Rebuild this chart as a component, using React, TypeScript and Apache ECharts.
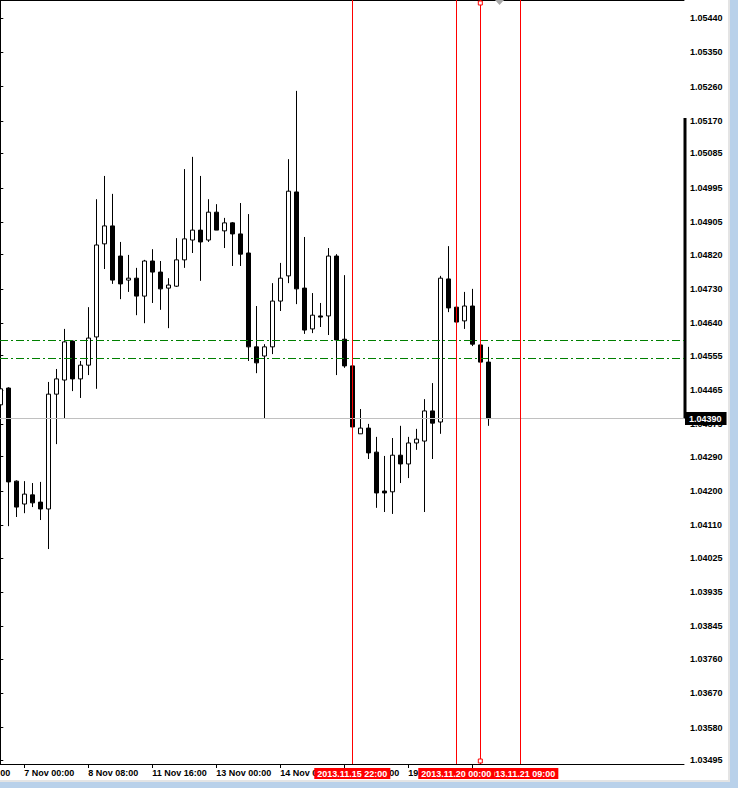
import React, { useEffect, useRef } from "react";
import * as echarts from "echarts";

// H4 candles, index 0 = 6 Nov 12:00
const opens = [
  1.04426, 1.04470, 1.04226, 1.04166, 1.04190, 1.04171, 1.04153, 1.04454, 1.04491, 1.04593,
  1.04494, 1.04530, 1.04604, 1.04848, 1.04895, 1.04816, 1.04753, 1.04758, 1.04711, 1.04803,
  1.04774, 1.04732, 1.04737, 1.04806, 1.04858, 1.04884, 1.04858, 1.04931, 1.04882, 1.04903,
  1.04874, 1.04824, 1.04578, 1.04554, 1.04578, 1.04698, 1.04764, 1.04984, 1.04732, 1.04625,
  1.04659, 1.04659, 1.04816, 1.04598, 1.04528, 1.04350, 1.04365, 1.04302, 1.04200, 1.04198,
  1.04294, 1.04271, 1.04326, 1.04331, 1.04410, 1.04381, 1.04756, 1.04682, 1.04646, 1.04685,
  1.04583, 1.04538,
];
const closes = [
  1.04468, 1.04224, 1.04158, 1.04192, 1.04169, 1.04153, 1.04454, 1.04494, 1.04591, 1.04494,
  1.04530, 1.04601, 1.04845, 1.04895, 1.04753, 1.04743, 1.04758, 1.04711, 1.04803, 1.04774,
  1.04730, 1.04740, 1.04806, 1.04861, 1.04884, 1.04853, 1.04931, 1.04884, 1.04903, 1.04874,
  1.04821, 1.04578, 1.04536, 1.04578, 1.04698, 1.04758, 1.04986, 1.04730, 1.04622, 1.04661,
  1.04656, 1.04816, 1.04596, 1.04528, 1.04368, 1.04365, 1.04300, 1.04195, 1.04195, 1.04294,
  1.04271, 1.04326, 1.04336, 1.04410, 1.04378, 1.04758, 1.04680, 1.04643, 1.04685, 1.04585,
  1.04538, 1.04390,
];
const lows = [
  1.04342, 1.04108, 1.04132, 1.04142, 1.04158, 1.04124, 1.04048, 1.04323, 1.04389, 1.04462,
  1.04444, 1.04504, 1.04468, 1.04782, 1.04743, 1.04703, 1.04722, 1.04661, 1.04640, 1.04693,
  1.04675, 1.04627, 1.04735, 1.04785, 1.04824, 1.04751, 1.04853, 1.04884, 1.04837, 1.04790,
  1.04790, 1.04541, 1.04509, 1.04391, 1.04559, 1.04672, 1.04745, 1.04690, 1.04612, 1.04614,
  1.04630, 1.04609, 1.04504, 1.04523, 1.04368, 1.04350, 1.04284, 1.04156, 1.04145, 1.04140,
  1.04221, 1.04234, 1.04308, 1.04145, 1.04284, 1.04350, 1.04669, 1.04643, 1.04625, 1.04580,
  1.04538, 1.04371,
];
const highs = [
  1.04488, 1.04472, 1.04228, 1.04226, 1.04221, 1.04224, 1.04486, 1.04520, 1.04625, 1.04595,
  1.04541, 1.04682, 1.04965, 1.05026, 1.04979, 1.04853, 1.04819, 1.04785, 1.04806, 1.04834,
  1.04803, 1.04758, 1.04863, 1.05044, 1.05076, 1.05026, 1.04965, 1.04952, 1.04916, 1.04905,
  1.04955, 1.04926, 1.04685, 1.04585, 1.04745, 1.04798, 1.05070, 1.05249, 1.04866, 1.04719,
  1.04693, 1.04837, 1.04821, 1.04766, 1.04528, 1.04415, 1.04376, 1.04342, 1.04292, 1.04339,
  1.04371, 1.04342, 1.04363, 1.04441, 1.04483, 1.04764, 1.04842, 1.04682, 1.04722, 1.04730,
  1.04583, 1.04578,
];

const timeTickIndex = [3, 11, 19, 27, 35, 43, 51, 59];
const timeTickLabels = [
  "7 Nov 00:00", "8 Nov 08:00", "11 Nov 16:00", "13 Nov 00:00",
  "14 Nov 08:00", "15 Nov 16:00", "19 Nov 00:00", "20 Nov 08:00",
];
const offLeftTickIndex = -5;
const offLeftTickLabel = "5 Nov 16:00";

const priceTicks = [
  1.0544, 1.0535, 1.0526, 1.0517, 1.05085, 1.04995, 1.04905, 1.0482, 1.0473, 1.0464,
  1.04555, 1.04465, 1.04375, 1.0429, 1.042, 1.0411, 1.04025, 1.03935, 1.03845, 1.0376,
  1.0367, 1.0358, 1.03495,
];

const vLineIndex = [44, 60, 65, 57];
const vLineLabels = ["2013.11.15 22:00", "2013.11.20 12:00", "2013.11.21 09:00", "2013.11.20 00:00"];
const selectedLineIndex = 60;
const chartShiftIndex = 62.4;

const greenLevels = [1.04596, 1.04549];
const bidPrice = 1.0439;
const rightBarTop = 1.05178;

const FONT = "'Liberation Sans', Arial, sans-serif";

export default function App() {
  const ref = useRef<HTMLDivElement>(null);

  useEffect(() => {
    if (!ref.current) return;
    const chart = echarts.init(ref.current, null, { renderer: "svg" });
    const xMin = -0.0375;
    const xMax = 85.4625;
    const yMin = 1.034845;
    const yMax = 1.054872;

    const candleData = opens.map((o, i) => [i, o, closes[i], lows[i], highs[i]]);

    const redLabel = (text: string) => ({
      show: true,
      position: "start",
      distance: 4,
      formatter: text,
      backgroundColor: "#ff0000",
      color: "#fff",
      fontSize: 9,
      fontWeight: "bold",
      fontFamily: FONT,
      padding: [1, 3, 0, 3],
      lineHeight: 10,
    });

    const option: any = {
      animation: false,
      backgroundColor: "#ffffff",
      grid: { left: 0, top: 0, right: 54, bottom: 24, containLabel: false },
      xAxis: [
        {
          type: "value",
          min: xMin,
          max: xMax,
          position: "bottom",
          splitLine: { show: false },
          axisLine: { show: true, lineStyle: { color: "#000", width: 1 } },
          axisTick: {
            show: true,
            customValues: timeTickIndex,
            length: 4,
            lineStyle: { color: "#000" },
          },
          axisLabel: {
            show: true,
            customValues: timeTickIndex,
            formatter: (v: number) => {
              const i = timeTickIndex.indexOf(Math.round(v));
              return i >= 0 ? timeTickLabels[i] : "";
            },
            align: "left",
            margin: 4,
            fontSize: 9,
            fontWeight: "bold",
            fontFamily: FONT,
            color: "#000",
          },
        },
        {
          type: "value",
          min: xMin,
          max: xMax,
          position: "top",
          splitLine: { show: false },
          axisLine: { show: true, lineStyle: { color: "#000", width: 1 } },
          axisTick: { show: false },
          axisLabel: { show: false },
        },
      ],
      yAxis: {
        type: "value",
        position: "right",
        min: yMin,
        max: yMax,
        splitLine: { show: false },
        axisLine: { show: true, lineStyle: { color: "#000", width: 1 } },
        axisTick: {
          show: true,
          customValues: priceTicks,
          length: 3,
          lineStyle: { color: "#000" },
        },
        axisLabel: {
          show: true,
          customValues: priceTicks,
          formatter: (v: number) => v.toFixed(5),
          margin: 6,
          fontSize: 9,
          fontWeight: "bold",
          fontFamily: FONT,
          color: "#000",
        },
      },
      series: [
        {
          type: "line",
          data: [],
          silent: true,
          z: 1,
          markLine: {
            silent: true,
            symbol: "none",
            precision: 6,
            animation: false,
            emphasis: { disabled: true },
            data: [
              ...greenLevels.map((v) => ({
                yAxis: v,
                lineStyle: { color: "#008000", width: 1, type: [8, 3, 2, 3] },
                label: { show: false },
              })),
              {
                yAxis: bidPrice,
                lineStyle: { color: "#c0c0c0", width: 1, type: "solid" },
                label: {
                  show: true,
                  position: "end",
                  distance: 1,
                  formatter: bidPrice.toFixed(5),
                  backgroundColor: "#000",
                  color: "#fff",
                  fontSize: 9,
                  fontWeight: "bold",
                  fontFamily: FONT,
                  padding: [2, 5, 1, 4],
                  lineHeight: 10,
                },
              },
            ],
          },
        },
        {
          type: "candlestick",
          data: candleData,
          encode: { x: 0, y: [1, 2, 3, 4] },
          barWidth: 4,
          silent: true,
          z: 2,
          itemStyle: {
            color: "#ffffff",
            color0: "#000000",
            borderColor: "#000000",
            borderColor0: "#000000",
            borderWidth: 1,
          },
        },
        {
          type: "line",
          data: [],
          silent: true,
          z: 3,
          markLine: {
            silent: true,
            symbol: "none",
            precision: 6,
            animation: false,
            emphasis: { disabled: true },
            data: vLineIndex.map((k, i) => ({
              xAxis: k,
              lineStyle: { color: "#ff0000", width: 1, type: "solid" },
              label: redLabel(vLineLabels[i]),
            })),
          },
        },
      ],
    };
    chart.setOption(option);

    const px = (x: number, y: number) =>
      chart.convertToPixel({ xAxisIndex: 0, yAxisIndex: 0 }, [x, y]) as number[];
    const [selX, gTop] = px(selectedLineIndex, yMax);
    const [, gBottom] = px(selectedLineIndex, yMin);
    const [shiftX] = px(chartShiftIndex, yMax);
    const [offX] = px(offLeftTickIndex, yMin);
    const [axisRight, barTopY] = px(xMax, rightBarTop);
    const [, bidY] = px(xMax, bidPrice);

    chart.setOption({
      graphic: [
        {
          type: "rect",
          shape: { x: axisRight - 0.5, y: barTopY, width: 3, height: bidY - barTopY },
          style: { fill: "#000" },
          z: 0,
        },
        {
          type: "polygon",
          shape: { points: [[shiftX - 4.5, gTop], [shiftX + 4.5, gTop], [shiftX, gTop + 5]] },
          style: { fill: "#a8a8a8" },
          z: 10,
        },
        {
          type: "rect",
          shape: { x: selX - 2, y: gTop + 1, width: 4, height: 4 },
          style: { fill: "#fff", stroke: "#ff0000", lineWidth: 1 },
          z: 10,
        },
        {
          type: "rect",
          shape: { x: selX - 2, y: gBottom - 5, width: 4, height: 4 },
          style: { fill: "#fff", stroke: "#ff0000", lineWidth: 1 },
          z: 10,
        },
        {
          type: "text",
          x: offX,
          y: gBottom + 4,
          style: {
            text: offLeftTickLabel,
            fontSize: 9,
            fontWeight: "bold",
            fontFamily: FONT,
            fill: "#000",
            textAlign: "left",
            textVerticalAlign: "top",
          },
        },
        // window frame
        { type: "rect", shape: { x: 728, y: 0, width: 2, height: 788 }, style: { fill: "#e4e4e4" } },
        { type: "rect", shape: { x: 730, y: 0, width: 8, height: 788 }, style: { fill: "#b9d1ea" } },
        { type: "rect", shape: { x: 0, y: 780, width: 730, height: 2 }, style: { fill: "#e4e4e4" } },
        { type: "rect", shape: { x: 0, y: 782, width: 738, height: 6 }, style: { fill: "#b9d1ea" } },
      ],
    });

    return () => chart.dispose();
  }, []);

  return (
    <div
      ref={ref}
      style={{ position: "absolute", left: 0, top: 0, width: 738, height: 788 }}
    />
  );
}
